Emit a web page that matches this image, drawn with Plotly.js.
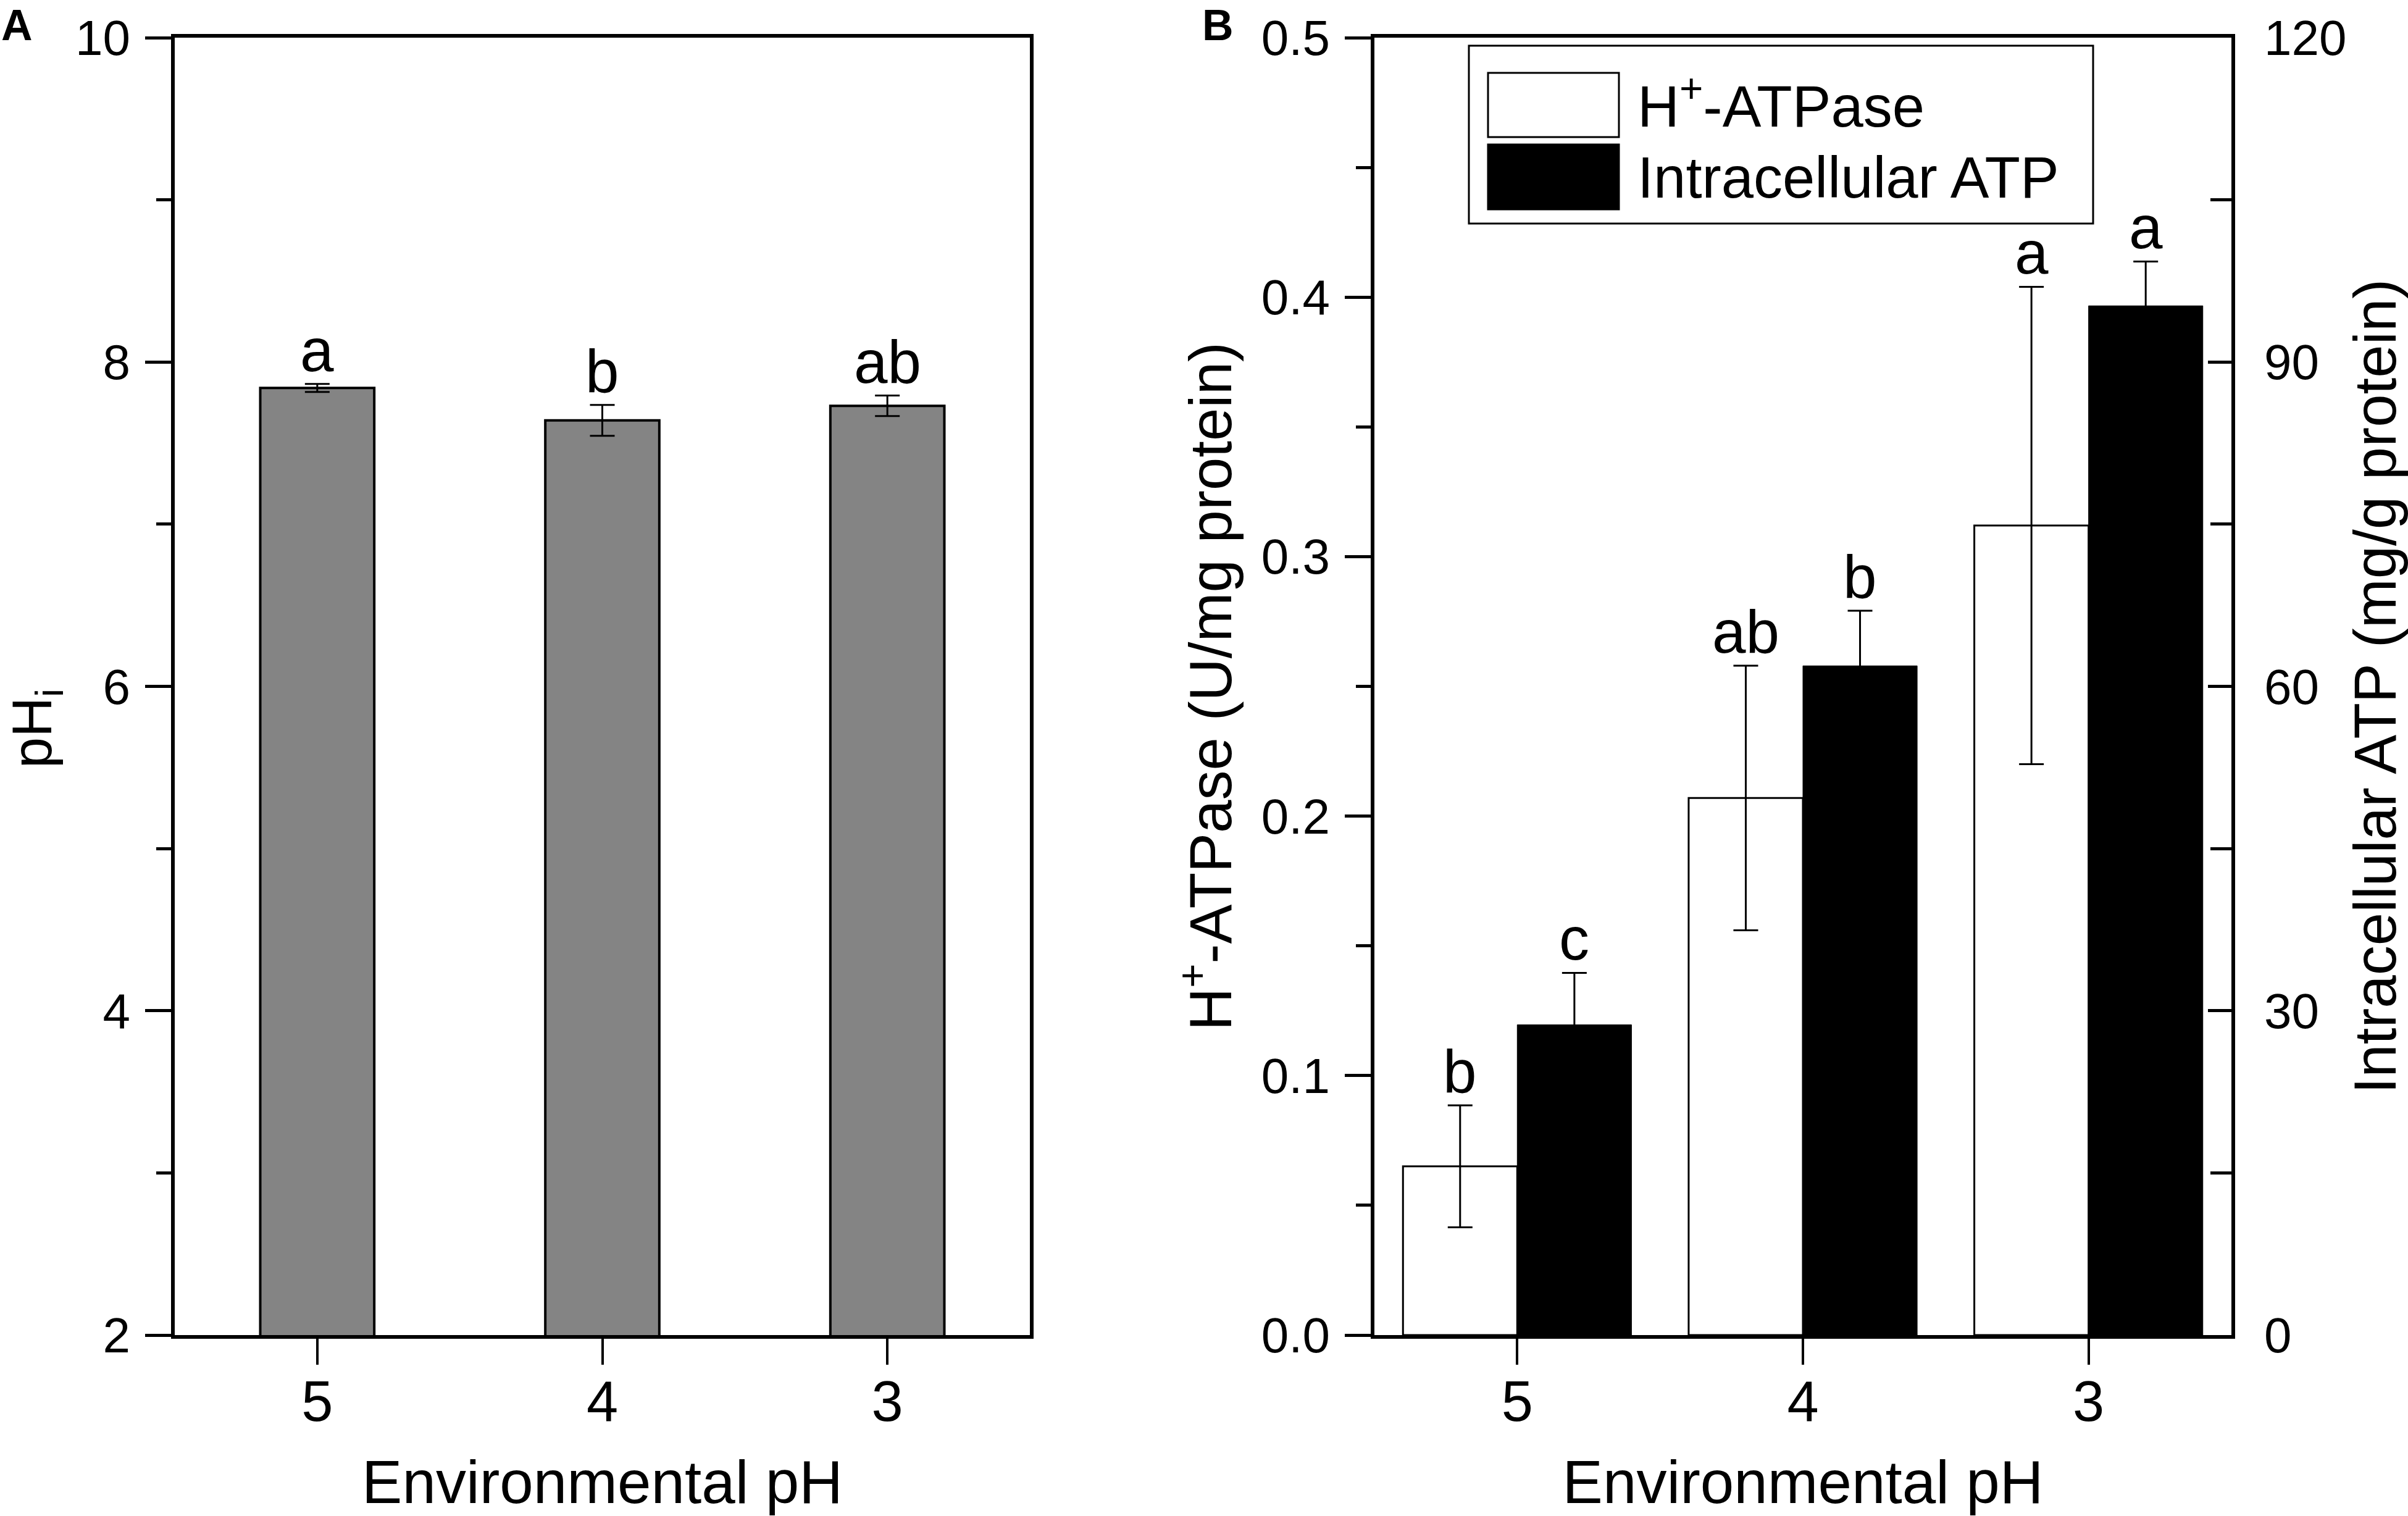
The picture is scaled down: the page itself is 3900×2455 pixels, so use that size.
<!DOCTYPE html>
<html>
<head>
<meta charset="utf-8">
<script src="https://cdn.plot.ly/plotly-3.0.1.min.js"></script>
<style>html,body{margin:0;padding:0;background:#fff;}#chart{width:3900px;height:2455px;}</style>
</head>
<body>
<div id="chart"></div>
<script>
// ---- data ----
const categories = ['5', '4', '3'];
// Panel A: intracellular pH
const phiValues = [7.84, 7.64, 7.73];
const phiErrors = [0.025, 0.095, 0.063];
const phiLetters = ['a', 'b', 'ab'];
// Panel B: H+-ATPase (U/mg protein), left axis
const atpaseValues = [0.065, 0.207, 0.312];
const atpaseErrors = [0.0235, 0.051, 0.092];
const atpaseLetters = ['b', 'ab', 'a'];
// Panel B: Intracellular ATP (mg/g protein), right axis
const atpValues = [28.7, 61.9, 95.2];
const atpErrors = [4.8, 5.1, 4.1];
const atpLetters = ['c', 'b', 'a'];
const seriesNames = ['H<sup>+</sup>-ATPase', 'Intracellular ATP'];

const FONT = 'Liberation Sans, Arial, Helvetica, sans-serif';
const W = 3900, H = 2455;

const traces = [
  {
    type: 'bar', x: categories, y: phiValues, xaxis: 'x', yaxis: 'y',
    width: 0.4,
    marker: {color: '#848484', line: {color: '#000', width: 4}},
    error_y: {type: 'data', array: phiErrors, visible: true, color: '#000', thickness: 3, width: 20},
    showlegend: false, hoverinfo: 'skip'
  },
  {
    type: 'bar', x: categories, y: atpaseValues, xaxis: 'x2', yaxis: 'y2',
    width: 0.4, offset: -0.4, name: seriesNames[0],
    marker: {color: '#fff', line: {color: '#000', width: 3}},
    error_y: {type: 'data', array: atpaseErrors, visible: true, color: '#000', thickness: 3, width: 20},
    showlegend: false, hoverinfo: 'skip'
  },
  {
    type: 'bar', x: categories, y: atpValues, xaxis: 'x2', yaxis: 'y3',
    width: 0.4, offset: 0, name: seriesNames[1],
    marker: {color: '#000', line: {color: '#000', width: 1}},
    error_y: {type: 'data', array: atpErrors, visible: true, color: '#000', thickness: 3, width: 20},
    showlegend: false, hoverinfo: 'skip'
  }
];

const LETTER_SIZE = 98;
const annotations = [];
phiLetters.forEach((t, i) => annotations.push({
  xref: 'x', yref: 'y', x: i, y: phiValues[i] + phiErrors[i], text: t, showarrow: false,
  yanchor: 'bottom', yshift: -2, font: {family: FONT, size: LETTER_SIZE, color: '#000'}
}));
atpaseLetters.forEach((t, i) => annotations.push({
  xref: 'x2', yref: 'y2', x: i - 0.2, y: atpaseValues[i] + atpaseErrors[i], text: t, showarrow: false,
  yanchor: 'bottom', yshift: -2, font: {family: FONT, size: LETTER_SIZE, color: '#000'}
}));
atpLetters.forEach((t, i) => annotations.push({
  xref: 'x2', yref: 'y3', x: i + 0.2, y: atpValues[i] + atpErrors[i], text: t, showarrow: false,
  yanchor: 'bottom', yshift: -2, font: {family: FONT, size: LETTER_SIZE, color: '#000'}
}));
// panel labels
annotations.push({xref: 'paper', yref: 'paper', x: 0, y: 1, xanchor: 'left', yanchor: 'top',
  text: '<b>A</b>', showarrow: false, font: {family: FONT, size: 70, color: '#000'}});
annotations.push({xref: 'paper', yref: 'paper', x: 1945 / W, y: 1, xanchor: 'left', yanchor: 'top',
  text: '<b>B</b>', showarrow: false, font: {family: FONT, size: 70, color: '#000'}});
// panel A y-axis title (rotated text hugging the left edge, as in the original)
annotations.push({xref: 'paper', yref: 'paper', x: 58 / W, y: 1 - 1180 / H, xanchor: 'center', yanchor: 'middle',
  textangle: -90, text: 'pH<sub>i</sub>', showarrow: false, font: {family: FONT, size: 90, color: '#000'}});
// legend text
annotations.push({xref: 'paper', yref: 'paper', x: 2650 / W, y: 1 - 166 / H, xanchor: 'left', yanchor: 'middle',
  text: seriesNames[0], showarrow: false, font: {family: FONT, size: 94, color: '#000'}});
annotations.push({xref: 'paper', yref: 'paper', x: 2650 / W, y: 1 - 288 / H, xanchor: 'left', yanchor: 'middle',
  text: seriesNames[1], showarrow: false, font: {family: FONT, size: 94, color: '#000'}});

const shapes = [
  {type: 'rect', xref: 'paper', yref: 'paper', x0: 2379 / W, x1: 3390 / W, y0: 1 - 362 / H, y1: 1 - 74 / H,
    line: {color: '#000', width: 3}, fillcolor: 'rgba(0,0,0,0)'},
  {type: 'rect', xref: 'paper', yref: 'paper', x0: 2410 / W, x1: 2622 / W, y0: 1 - 222 / H, y1: 1 - 118 / H,
    line: {color: '#000', width: 3}, fillcolor: '#fff'},
  {type: 'rect', xref: 'paper', yref: 'paper', x0: 2410 / W, x1: 2622 / W, y0: 1 - 339 / H, y1: 1 - 234 / H,
    line: {color: '#000', width: 3}, fillcolor: '#000'}
];

const yDom = [1 - 2162 / H, 1 - 61 / H];
const xaxisBase = {
  type: 'category', range: [-0.5, 2.5], showline: true, linecolor: '#000', linewidth: 6, mirror: true,
  ticks: 'outside', ticklen: 42, tickwidth: 4, tickcolor: '#000', showgrid: false, zeroline: false,
  tickfont: {family: FONT, size: 92, color: '#000'}, ticklabelstandoff: -19, automargin: false,
  title: {text: 'Environmental pH', font: {family: FONT, size: 98, color: '#000'}, standoff: 62}
};

const layout = {
  width: W, height: H,
  margin: {l: 0, r: 0, t: 0, b: 0, pad: 0},
  paper_bgcolor: '#fff', plot_bgcolor: '#fff',
  font: {family: FONT, color: '#000'},
  showlegend: false,
  xaxis: Object.assign({}, xaxisBase, {domain: [283 / W, 1668 / W], anchor: 'y'}),
  xaxis2: Object.assign({}, xaxisBase, {domain: [2226 / W, 3614 / W], anchor: 'y2'}),
  yaxis: {
    domain: yDom, anchor: 'x', range: [2, 10], tickvals: [2, 4, 6, 8, 10],
    showline: true, linecolor: '#000', linewidth: 6, mirror: true,
    ticks: 'outside', ticklen: 42, tickwidth: 5, tickcolor: '#000',
    minor: {tickvals: [3, 5, 7, 9], ticks: 'outside', ticklen: 24, tickwidth: 5, tickcolor: '#000', showgrid: false},
    showgrid: false, zeroline: false, automargin: false,
    tickfont: {family: FONT, size: 80, color: '#000'}, ticklabelstandoff: 8
  },
  yaxis2: {
    domain: yDom, anchor: 'x2', range: [0, 0.5], tickvals: [0, 0.1, 0.2, 0.3, 0.4, 0.5], tickformat: '.1f',
    showline: true, linecolor: '#000', linewidth: 6, mirror: false,
    ticks: 'outside', ticklen: 42, tickwidth: 5, tickcolor: '#000',
    minor: {tickvals: [0.05, 0.15, 0.25, 0.35, 0.45], ticks: 'outside', ticklen: 24, tickwidth: 5, tickcolor: '#000', showgrid: false},
    showgrid: false, zeroline: false, automargin: false,
    tickfont: {family: FONT, size: 80, color: '#000'}, ticklabelstandoff: 8,
    title: {text: 'H<sup>+</sup>-ATPase (U/mg protein)', font: {family: FONT, size: 96, color: '#000'}, standoff: 18}
  },
  yaxis3: {
    domain: yDom, anchor: 'x2', overlaying: 'y2', side: 'right', range: [0, 120], tickvals: [0, 30, 60, 90, 120],
    showline: true, linecolor: '#000', linewidth: 6,
    ticks: 'inside', ticklen: 38, tickwidth: 5, tickcolor: '#000',
    minor: {tickvals: [15, 45, 75, 105], ticks: 'inside', ticklen: 34, tickwidth: 5, tickcolor: '#000', showgrid: false},
    showgrid: false, zeroline: false, automargin: false,
    tickfont: {family: FONT, size: 80, color: '#000'}, ticklabelstandoff: 31,
    title: {text: 'Intracellular ATP (mg/g protein)', font: {family: FONT, size: 96, color: '#000'}, standoff: 34}
  },
  annotations: annotations,
  shapes: shapes
};

Plotly.newPlot('chart', traces, layout, {staticPlot: true, displayModeBar: false});
</script>
</body>
</html>
